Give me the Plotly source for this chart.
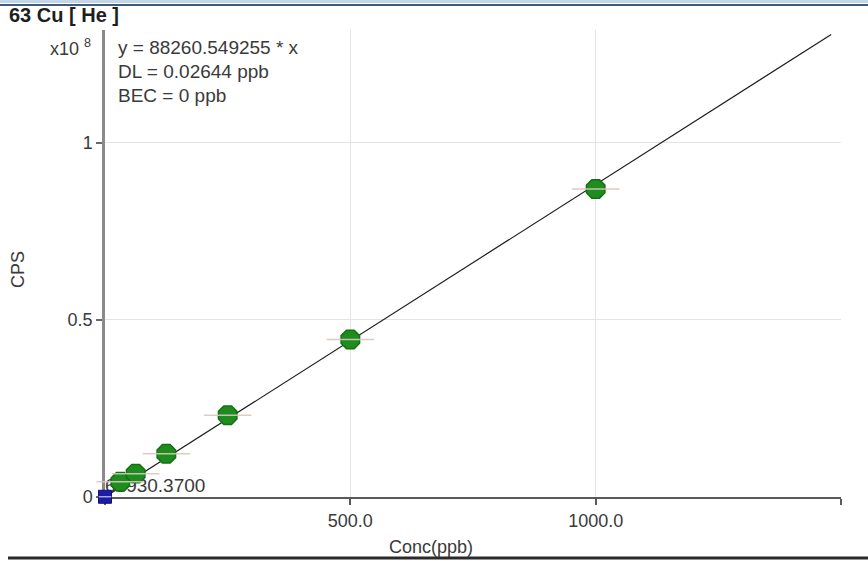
import plotly.graph_objects as go

# Calibration standards for 63Cu measured in He collision mode
conc_ppb = [31.25, 62.5, 125.0, 250.0, 500.0, 1000.0]
cps = [4.3e6, 6.6e6, 1.22e7, 2.31e7, 4.45e7, 8.70e7]

# Calibration blank
blank_conc = [0.0]
blank_cps = [63930.37]

# Linear fit through the origin
slope = 88260.549255
dl_ppb = 0.02644
bec_ppb = 0
fit_x = [0.0, 1480.0]

# Axis ticks
x_tickvals = [0, 500, 1000, 1500]
x_ticktext = ["", "500.0", "1000.0", ""]
y_tickvals = [0, 0.5e8, 1.0e8]
y_ticktext = ["0", "0.5", "1"]

W, H = 868, 561
L, R, T, B = 105, 27, 30, 64
PW, PH = W - L - R, H - T - B

FONT = "Liberation Sans, Arial, sans-serif"
TXT = "#3a3a3a"


def px_x(p):
    return (p - L) / PW


def px_y(p):
    return (H - B - p) / PH


fig = go.Figure()

# blank CPS label (drawn beneath the standard markers)
fig.add_trace(go.Scatter(
    x=blank_conc, y=blank_cps, mode="text",
    text=[f"{blank_cps[0]:.4f}"], textposition="top right",
    textfont=dict(family=FONT, size=19, color=TXT),
    cliponaxis=False, hoverinfo="skip", showlegend=False,
))

# fitted calibration line
fig.add_trace(go.Scatter(
    x=fit_x, y=[slope * v for v in fit_x], mode="lines",
    line=dict(color="#1e1e1e", width=1.2),
    hoverinfo="skip", showlegend=False,
))

# standards
fig.add_trace(go.Scatter(
    x=conc_ppb, y=cps, mode="markers",
    marker=dict(symbol="octagon", size=20, color="#1f8c1f",
                line=dict(color="#137013", width=1.5)),
    cliponaxis=False, showlegend=False,
))
# short horizontal bars across each standard
fig.add_trace(go.Scatter(
    x=conc_ppb, y=cps, mode="markers",
    marker=dict(symbol="line-ew", size=34,
                line=dict(color="rgba(214,200,190,0.9)", width=1.5)),
    cliponaxis=False, hoverinfo="skip", showlegend=False,
))

# blank
fig.add_trace(go.Scatter(
    x=blank_conc, y=blank_cps, mode="markers",
    marker=dict(symbol="square", size=13, color="#1c1ca8",
                line=dict(color="#10107a", width=1)),
    cliponaxis=False, showlegend=False,
))
fig.add_trace(go.Scatter(
    x=blank_conc, y=blank_cps, mode="markers",
    marker=dict(symbol="line-ew", size=9,
                line=dict(color="rgba(220,220,240,0.9)", width=1.2)),
    cliponaxis=False, hoverinfo="skip", showlegend=False,
))

annotations = [
    dict(text="<b>63 Cu [ He ]</b>", x=px_x(7), y=px_y(15), xanchor="left",
         yanchor="middle", font=dict(family=FONT, size=20, color="#1e1e1e")),
    dict(text="x10 <sup>8</sup>", x=px_x(93), y=px_y(47), xanchor="right",
         yanchor="middle", font=dict(family=FONT, size=18, color=TXT)),
    dict(text=f"y = {slope:.6f} * x", x=px_x(116), y=px_y(47),
         xanchor="left", yanchor="middle",
         font=dict(family=FONT, size=19, color=TXT)),
    dict(text=f"DL = {dl_ppb:.5f} ppb", x=px_x(116), y=px_y(71),
         xanchor="left", yanchor="middle",
         font=dict(family=FONT, size=19, color=TXT)),
    dict(text=f"BEC = {bec_ppb} ppb", x=px_x(116), y=px_y(95),
         xanchor="left", yanchor="middle",
         font=dict(family=FONT, size=19, color=TXT)),
    dict(text="CPS", x=px_x(18), y=px_y(270), textangle=-90,
         xanchor="center", yanchor="middle",
         font=dict(family=FONT, size=18, color=TXT)),
    dict(text="Conc(ppb)", x=px_x(431), y=px_y(547), xanchor="center",
         yanchor="middle", font=dict(family=FONT, size=18, color=TXT)),
]
for a in annotations:
    a.update(xref="paper", yref="paper", showarrow=False)

shapes = [
    # window frame along the top edge
    dict(type="rect", x0=px_x(0), x1=px_x(W), y0=px_y(0), y1=px_y(3),
         fillcolor="#c2d6e8", line=dict(width=0)),
    dict(type="line", x0=px_x(0), x1=px_x(W), y0=px_y(5), y1=px_y(5),
         line=dict(color="#3f5b78", width=2)),
    # separator along the bottom edge
    dict(type="line", x0=px_x(8), x1=px_x(W), y0=px_y(558), y1=px_y(558),
         line=dict(color="#2a2a2a", width=3)),
]
for s in shapes:
    s.update(xref="paper", yref="paper", layer="above")

fig.update_layout(
    width=W, height=H,
    margin=dict(l=L, r=R, t=T, b=B, pad=0),
    paper_bgcolor="white", plot_bgcolor="white",
    font=dict(family=FONT, size=18, color=TXT),
    annotations=annotations, shapes=shapes,
    xaxis=dict(
        range=[0, 1500], tickvals=x_tickvals, ticktext=x_ticktext,
        showgrid=True, gridcolor="#e4e4e4", gridwidth=1.2, zeroline=False,
        showline=True, linecolor="#5a5a5a", linewidth=2,
        ticks="outside", ticklen=6, tickcolor="#5a5a5a", tickwidth=1.5,
        tickfont=dict(family=FONT, size=18, color=TXT),
        layer="below traces",
    ),
    yaxis=dict(
        range=[0, 1.319e8], tickvals=y_tickvals, ticktext=y_ticktext,
        showgrid=True, gridcolor="#e4e4e4", gridwidth=1.2, zeroline=False,
        showline=True, linecolor="#8a8a8a", linewidth=2.5,
        ticks="outside", ticklen=6, tickcolor="#6a6a6a", tickwidth=1.5,
        tickfont=dict(family=FONT, size=18, color=TXT),
        layer="below traces",
    ),
)

fig.write_html("out.html")
